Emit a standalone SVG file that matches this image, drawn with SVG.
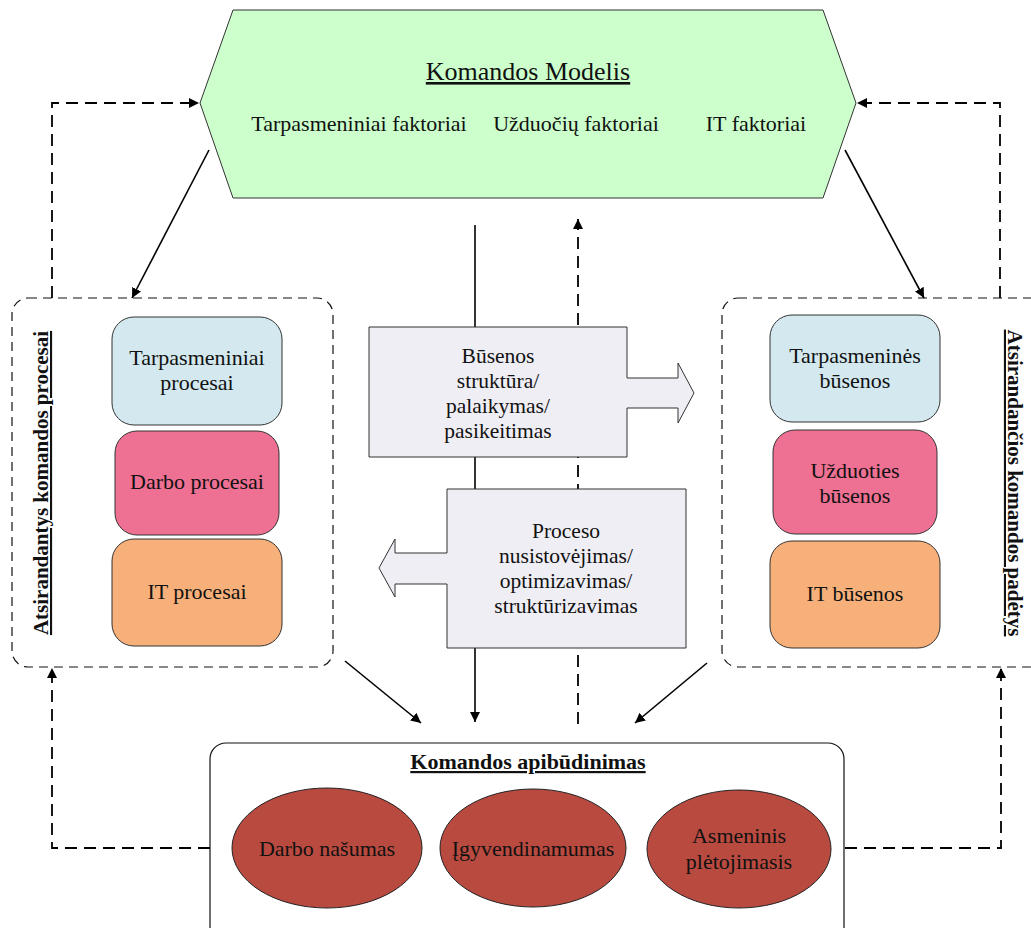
<svg xmlns="http://www.w3.org/2000/svg" width="1031" height="928" viewBox="0 0 1031 928">
  <defs>
    <marker id="ah" viewBox="0 0 10 10" refX="10" refY="5" markerWidth="10" markerHeight="10" markerUnits="userSpaceOnUse" orient="auto">
      <path d="M0,0 L10,5 L0,10 z" fill="#000"/>
    </marker>
    <style>
      text { font-family: "Liberation Serif", "Times New Roman", serif; fill: #111; text-anchor: middle; }
      .t { font-size: 22px; }
      .c { font-size: 21.5px; }
      .big { font-size: 22px; }
      .title { font-size: 26px; text-decoration: underline; }
      .vlab { font-size: 21px; font-weight: bold; text-decoration: underline; }
      .blab { font-size: 22px; font-weight: bold; text-decoration: underline; }
      .card { stroke: #333; stroke-width: 1; }
      .blue { fill: #d3e9ef; }
      .pink { fill: #ee7092; }
      .orange { fill: #f7b07a; }
      .grey { fill: #efeef4; stroke: #333; stroke-width: 1; }
      .ell { fill: #b94a40; stroke: #222; stroke-width: 1; }
      .dbox { fill: none; stroke: #111; stroke-width: 1.2; stroke-dasharray: 9 6; }
      .solid { fill: none; stroke: #000; stroke-width: 1.6; }
      .dash { fill: none; stroke: #000; stroke-width: 1.8; stroke-dasharray: 12 7; }
    </style>
  </defs>

  <rect width="1031" height="928" fill="#fff"/>

  <!-- team model hexagon -->
  <g id="model">
    <polygon points="233,10 823,10 856,103 823,198 233,198 200,103" fill="#ccffcc" stroke="#333" stroke-width="1"/>
    <text class="title" x="528" y="80">Komandos Modelis</text>
    <text class="big" x="359" y="131">Tarpasmeniniai faktoriai</text>
    <text class="big" x="576" y="131">Užduočių faktoriai</text>
    <text class="big" x="756" y="131">IT faktoriai</text>
  </g>

  <!-- emerging team processes -->
  <g id="processes">
    <rect class="dbox" x="12" y="298" width="321" height="369" rx="16"/>
    <text class="vlab" transform="translate(48,483) rotate(-90)">Atsirandantys komandos procesai</text>
    <rect class="card blue" x="112" y="317" width="170" height="108" rx="22"/>
    <text class="t" x="197" y="365">Tarpasmeniniai</text>
    <text class="t" x="197" y="390">procesai</text>
    <rect class="card pink" x="115" y="431" width="164" height="104" rx="22"/>
    <text class="t" x="197" y="489">Darbo procesai</text>
    <rect class="card orange" x="112" y="539" width="170" height="107" rx="22"/>
    <text class="t" x="197" y="599">IT procesai</text>
  </g>

  <!-- emerging team states -->
  <g id="states">
    <rect class="dbox" x="722" y="298" width="330" height="369" rx="16"/>
    <text class="vlab" transform="translate(1008,483) rotate(90)">Atsirandančios komandos padėtys</text>
    <rect class="card blue" x="770" y="315" width="170" height="107" rx="22"/>
    <text class="t" x="855" y="363">Tarpasmeninės</text>
    <text class="t" x="855" y="388">būsenos</text>
    <rect class="card pink" x="773" y="430" width="164" height="104" rx="22"/>
    <text class="t" x="855" y="478">Užduoties</text>
    <text class="t" x="855" y="503">būsenos</text>
    <rect class="card orange" x="770" y="541" width="170" height="107" rx="22"/>
    <text class="t" x="855" y="601">IT būsenos</text>
  </g>

  <!-- connectors -->
  <g id="connectors">
    <line class="solid" x1="475" y1="225" x2="475" y2="722" marker-end="url(#ah)"/>
    <line class="dash" x1="578" y1="724" x2="578" y2="219" marker-end="url(#ah)"/>
    <line class="solid" x1="209" y1="150" x2="132" y2="298" marker-end="url(#ah)"/>
    <line class="solid" x1="845" y1="150" x2="924" y2="298" marker-end="url(#ah)"/>
    <line class="solid" x1="345" y1="661" x2="421" y2="723" marker-end="url(#ah)"/>
    <line class="solid" x1="707" y1="663" x2="635" y2="723" marker-end="url(#ah)"/>
    <polyline class="dash" points="52,298 52,103 199,103" marker-end="url(#ah)"/>
    <polyline class="dash" points="1000,298 1000,103 857,103" marker-end="url(#ah)"/>
    <polyline class="dash" points="210,848 52,848 52,668" marker-end="url(#ah)"/>
    <polyline class="dash" points="845,848 1001,848 1001,668" marker-end="url(#ah)"/>
  </g>

  <!-- state structure arrow box -->
  <g id="state-change">
    <path class="grey" d="M369,327 H627 V378 H678 V363 L694,393 L678,423 V408 H627 V457 H369 Z"/>
    <text class="c" x="498" y="363">Būsenos</text>
    <text class="c" x="498" y="388">struktūra/</text>
    <text class="c" x="498" y="413">palaikymas/</text>
    <text class="c" x="498" y="438">pasikeitimas</text>
  </g>

  <!-- process settling arrow box -->
  <g id="process-change">
    <path class="grey" d="M686,489 H447 V553 H395 V539 L379,568 L395,597 V584 H447 V648 H686 Z"/>
    <text class="c" x="566" y="538">Proceso</text>
    <text class="c" x="566" y="563">nusistovėjimas/</text>
    <text class="c" x="566" y="588">optimizavimas/</text>
    <text class="c" x="566" y="613">struktūrizavimas</text>
  </g>

  <!-- team characterisation -->
  <g id="outcomes">
    <rect x="210" y="743" width="634" height="200" rx="16" fill="#fff" stroke="#111" stroke-width="1.2"/>
    <text class="blab" x="528" y="769">Komandos apibūdinimas</text>
    <ellipse class="ell" cx="327" cy="848" rx="95" ry="60"/>
    <text class="t" x="327" y="856">Darbo našumas</text>
    <ellipse class="ell" cx="533" cy="848" rx="93" ry="59"/>
    <text class="t" x="533" y="856">Įgyvendinamumas</text>
    <ellipse class="ell" cx="739" cy="849" rx="92" ry="59"/>
    <text class="t" x="739" y="843">Asmeninis</text>
    <text class="t" x="739" y="869">plėtojimasis</text>
  </g>
</svg>
